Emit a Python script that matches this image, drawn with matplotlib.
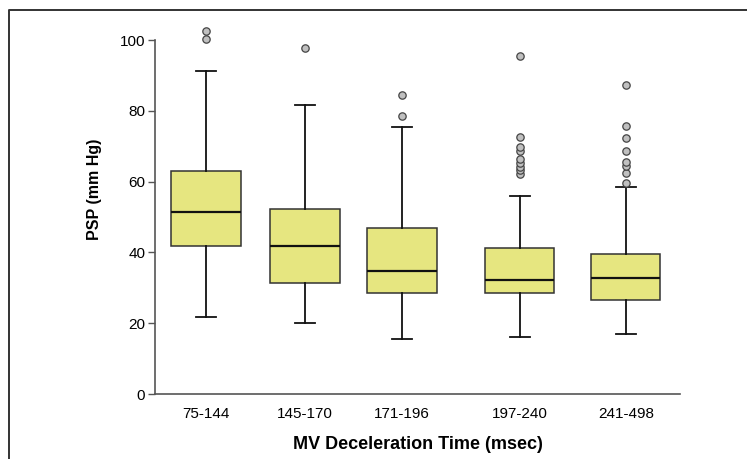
import matplotlib
matplotlib.use("Agg")
import matplotlib.pyplot as plt
from matplotlib.lines import Line2D

categories = ["75-144", "145-170", "171-196", "197-240", "241-498"]
q1 = [41.9, 31.4, 28.5, 28.6, 26.6]
medians = [51.5, 41.8, 34.7, 32.2, 32.9]
q3 = [63.1, 52.3, 46.9, 41.3, 39.6]
whisker_low = [21.8, 20.1, 15.5, 16.0, 17.0]
whisker_high = [91.3, 81.6, 75.4, 55.9, 58.5]
outliers = [
    [100.3, 102.5],
    [97.7],
    [78.5, 84.5],
    [62.2, 63.3, 64.2, 65.3, 66.5, 68.6, 69.7, 72.6, 95.5],
    [59.7, 62.3, 64.4, 65.4, 68.6, 72.4, 75.6, 87.4],
]
yticks = [0, 20, 40, 60, 80, 100]

positions = [1, 2, 2.98, 4.17, 5.24]

plt.rcParams['font.family'] = ['Liberation Sans', 'DejaVu Sans']

fig = plt.figure(figsize=(7.47, 4.59), dpi=100)
ax = fig.add_axes([155/747, 65/459, 525/747, 3.54*105/459])

stats = []
for i, c in enumerate(categories):
    stats.append(dict(label=c, med=medians[i], q1=q1[i], q3=q3[i],
                      whislo=whisker_low[i], whishi=whisker_high[i],
                      fliers=outliers[i]))

ax.bxp(stats, positions=positions, widths=0.70, capwidths=0.2,
       patch_artist=True, showfliers=True,
       boxprops=dict(facecolor='#e6e680', edgecolor='#333333', linewidth=1.1),
       medianprops=dict(color='#111111', linewidth=1.6),
       whiskerprops=dict(color='#111111', linewidth=1.3),
       capprops=dict(color='#111111', linewidth=1.3),
       flierprops=dict(marker='o', markersize=5.3, markerfacecolor='#c0c0c0',
                       markeredgecolor='#444444', markeredgewidth=0.9))

ax.set_xlim(1 - 51/99, 1 + 474/99)
ax.set_ylim(0, 105)
ax.set_yticks(yticks)
ax.set_xticks(positions)
ax.set_xticklabels(categories)
for s in ['top', 'right']:
    ax.spines[s].set_visible(False)
for s in ['left', 'bottom']:
    ax.spines[s].set_color('#555555')
    ax.spines[s].set_linewidth(1.2)
ax.spines['left'].set_bounds(0, 100)
ax.tick_params(axis='y', length=5, width=1.0, color='#555555', labelsize=11, pad=2)
ax.tick_params(axis='x', length=0, labelsize=11, pad=9)

ax.set_xlabel("MV Deceleration Time (msec)", fontsize=13, fontweight='bold', labelpad=11)
ax.set_ylabel("PSP (mm Hg)", fontsize=11.5, fontweight='bold')
ax.yaxis.set_label_coords(-0.100, 0.55)

# partial frame around figure
fx = 9/747
fy = 1 - 10/459
fig.add_artist(Line2D([fx, fx, 1], [0, fy, fy], transform=fig.transFigure,
                      color='#333333', linewidth=1.4))

fig.savefig("out.png", dpi=100)
